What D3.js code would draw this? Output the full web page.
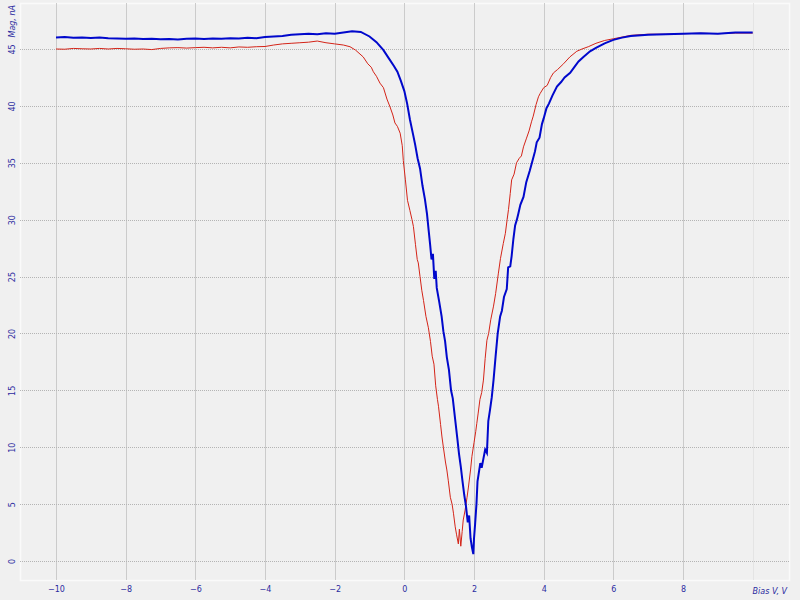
<!DOCTYPE html>
<html>
<head>
<meta charset="utf-8">
<script src="https://cdn.jsdelivr.net/npm/d3@7/dist/d3.min.js"></script>
<style>
html,body{margin:0;padding:0;background:#f0f0f0;}
svg{display:block;}
text{font-family:"DejaVu Sans",Verdana,sans-serif;}
</style>
</head>
<body>
<svg id="chart" width="800" height="600"></svg>
<script>
// ---- data ----
const xTicks = [-10, -8, -6, -4, -2, 0, 2, 4, 6, 8];
const xGrid = [-10, -8, -6, -4, -2, 0, 2, 4, 6, 8, 10];
const yTicks = [0, 5, 10, 15, 20, 25, 30, 35, 40, 45];
const xTitle = "Bias V, V";
const yTitle = "Mag, nA";

const biasBlue = [-10,-9.75,-9.5,-9.25,-9,-8.75,-8.5,-8.25,-8,-7.75,-7.5,-7.25,-7,-6.75,-6.5,-6.25,-6,-5.75,-5.5,-5.25,-5,-4.75,-4.5,-4.25,-4,-3.75,-3.5,-3.25,-3,-2.75,-2.5,-2.25,-2,-1.75,-1.5,-1.25,-1.0,-0.8,-0.6,-0.45,-0.3,-0.2,-0.1,0.0,0.08,0.16,0.25,0.31,0.38,0.45,0.52,0.59,0.65,0.7,0.74,0.78,0.82,0.86,0.9,0.93,1.0,1.07,1.12,1.17,1.22,1.28,1.34,1.39,1.46,1.52,1.57,1.62,1.67,1.72,1.77,1.82,1.86,1.9,1.94,1.98,2.0,2.03,2.07,2.1,2.13,2.18,2.22,2.27,2.32,2.37,2.41,2.46,2.51,2.56,2.62,2.68,2.75,2.8,2.86,2.94,2.98,3.04,3.08,3.13,3.18,3.23,3.27,3.33,3.42,3.5,3.6,3.68,3.75,3.8,3.88,3.95,4.0,4.08,4.15,4.25,4.38,4.5,4.6,4.76,4.9,5.0,5.14,5.33,5.5,5.75,6.0,6.25,6.5,7.0,7.5,8.0,8.5,9.0,9.5,10.0];
const magBlue = [46.0,46.05,45.98,46.02,45.97,46.0,45.95,45.93,45.9,45.92,45.88,45.9,45.86,45.88,45.84,45.9,45.92,45.88,45.93,45.9,45.95,45.92,45.98,45.95,46.05,46.1,46.15,46.25,46.3,46.35,46.3,46.38,46.35,46.45,46.55,46.5,46.1,45.6,44.9,44.2,43.5,43.0,42.2,41.3,40.2,38.8,37.5,36.6,35.4,34.5,33.0,31.8,30.5,29.0,27.8,26.5,27.0,24.8,25.5,24.0,22.8,21.5,20.2,19.3,17.9,16.8,15.0,14.3,12.4,10.8,9.4,8.3,7.0,5.8,4.8,3.4,4.0,2.0,1.2,0.6,2.0,3.2,5.0,7.0,7.6,8.6,8.2,9.0,9.8,9.5,12.3,13.3,14.4,15.9,18.0,20.0,21.5,22.0,23.2,23.9,25.8,25.9,26.8,28.3,29.5,30.0,30.5,31.3,32.0,33.3,34.3,35.2,36.0,36.8,37.2,38.4,38.9,39.8,40.2,40.9,41.7,42.1,42.5,42.9,43.5,43.9,44.3,44.8,45.1,45.5,45.8,46.0,46.15,46.25,46.3,46.35,46.38,46.35,46.45,46.45];

const biasRed = [-10,-9.75,-9.5,-9.25,-9,-8.75,-8.5,-8.25,-8,-7.75,-7.5,-7.25,-7,-6.75,-6.5,-6.25,-6,-5.75,-5.5,-5.25,-5,-4.75,-4.5,-4.25,-4,-3.75,-3.5,-3.25,-3,-2.75,-2.5,-2.25,-2.0,-1.75,-1.56,-1.4,-1.18,-1.05,-0.95,-0.89,-0.8,-0.7,-0.6,-0.5,-0.41,-0.33,-0.27,-0.2,-0.12,-0.06,-0.03,0.03,0.09,0.16,0.22,0.26,0.32,0.37,0.4,0.45,0.5,0.55,0.62,0.69,0.75,0.8,0.85,0.9,0.95,0.98,1.04,1.08,1.12,1.18,1.22,1.26,1.32,1.37,1.41,1.46,1.5,1.55,1.58,1.62,1.66,1.69,1.74,1.8,1.84,1.9,1.94,2.0,2.05,2.08,2.12,2.17,2.22,2.27,2.32,2.37,2.42,2.48,2.56,2.62,2.7,2.76,2.84,2.9,2.95,2.99,3.04,3.08,3.15,3.22,3.3,3.36,3.42,3.5,3.58,3.65,3.7,3.78,3.85,3.9,4.0,4.1,4.2,4.28,4.4,4.57,4.75,4.95,5.1,5.28,5.5,5.75,6.0,6.25,6.5,7.0,7.5,8.0,8.5,9.0,9.5,10.0];
const magRed = [45.0,44.98,45.05,45.02,45.0,45.05,45.0,45.05,45.02,44.98,45.0,44.95,45.05,45.1,45.12,45.08,45.12,45.15,45.1,45.15,45.1,45.18,45.15,45.2,45.22,45.35,45.45,45.5,45.55,45.6,45.7,45.55,45.45,45.35,45.2,44.9,44.3,43.7,43.4,43.0,42.6,42.0,41.6,40.6,39.9,39.2,38.5,38.2,37.6,36.5,35.2,33.5,31.7,30.8,30.0,29.4,27.8,26.5,26.2,25.0,23.8,22.9,21.5,20.5,19.3,18.0,17.3,15.4,14.2,13.6,12.0,10.9,10.0,8.7,8.0,7.1,5.6,5.0,4.2,3.0,2.3,1.5,2.8,1.3,2.6,3.6,4.4,5.6,6.5,8.0,9.2,10.4,11.4,12.1,13.0,14.2,14.8,15.9,17.8,19.4,20.0,21.2,22.4,23.5,25.3,26.6,27.9,28.8,30.0,30.9,32.3,33.5,34.0,35.0,35.4,35.6,36.4,37.1,37.8,38.6,39.1,40.1,40.8,41.1,41.6,41.8,42.5,42.9,43.2,43.7,44.3,44.8,45.0,45.2,45.5,45.75,45.9,46.05,46.2,46.3,46.3,46.35,46.38,46.35,46.4,46.4];

// ---- layout ----
const svg = d3.select("#chart");
const W = 800, H = 600;
const plotL = 20, plotR = 789, plotT = 3, plotB = 580;
const x = d3.scaleLinear().domain([-10, 10]).range([56, 752.7]);
const y = d3.scaleLinear().domain([0, 45]).range([561, 49]);
const labelColor = "#2b2ba0";
const fontFam = "DejaVu Sans, Verdana, sans-serif";

svg.append("rect").attr("width", W).attr("height", H).attr("fill", "#f0f0f0");

// plot frame (faint)
svg.append("rect")
  .attr("x", plotL + 0.5).attr("y", plotT + 0.5)
  .attr("width", plotR - plotL).attr("height", plotB - plotT)
  .attr("fill", "none").attr("stroke", "#fafafa").attr("stroke-width", 1.5);

// vertical grid
svg.append("g").selectAll("line").data(xGrid).join("line")
  .attr("x1", d => Math.round(x(d)) + 0.5).attr("x2", d => Math.round(x(d)) + 0.5)
  .attr("y1", plotT).attr("y2", plotB)
  .attr("stroke", d => d === 10 ? "#e4e4e4" : "#cbcbcb")
  .attr("stroke-width", 1);

// horizontal grid
svg.append("g").selectAll("line").data(yTicks).join("line")
  .attr("x1", plotL).attr("x2", plotR)
  .attr("y1", d => Math.round(y(d)) + 0.5).attr("y2", d => Math.round(y(d)) + 0.5)
  .attr("stroke", "#b4b4b4")
  .attr("stroke-width", 1)
  .attr("stroke-dasharray", "1,1");

// axes (text only, via d3 axis generators)
const xAxis = d3.axisBottom(x).tickValues(xTicks).tickSize(0).tickPadding(0);
const gx = svg.append("g").attr("transform", "translate(0,586)").call(xAxis);
gx.select(".domain").remove();
gx.selectAll("text").attr("fill", labelColor).attr("font-size", 8)
  .attr("font-family", fontFam);

const yAxis = d3.axisLeft(y).tickValues(yTicks).tickSize(0).tickPadding(0);
const gy = svg.append("g").call(yAxis);
gy.select(".domain").remove();
gy.selectAll(".tick text")
  .attr("x", 0).attr("dy", 0)
  .attr("text-anchor", "middle")
  .attr("transform", "translate(15,0) rotate(-90)")
  .attr("fill", labelColor).attr("font-size", 8)
  .attr("font-family", fontFam);

// axis titles
svg.append("text")
  .attr("transform", "translate(15,5) rotate(-90)")
  .attr("text-anchor", "end")
  .attr("font-size", 8).attr("font-style", "italic")
  .attr("font-family", fontFam)
  .attr("fill", labelColor)
  .text(yTitle);

svg.append("text")
  .attr("x", 787).attr("y", 594)
  .attr("text-anchor", "end")
  .attr("font-size", 8).attr("font-style", "italic")
  .attr("font-family", fontFam)
  .attr("fill", labelColor)
  .text(xTitle);

// lines
const line = d3.line().x(d => x(d[0])).y(d => y(d[1]));
const redData = biasRed.map((b, i) => [b, magRed[i]]);
const blueData = biasBlue.map((b, i) => [b, magBlue[i]]);

svg.append("path").datum(redData)
  .attr("d", line).attr("fill", "none")
  .attr("stroke", "#d42418").attr("stroke-width", 1);

svg.append("path").datum(blueData)
  .attr("d", line).attr("fill", "none")
  .attr("stroke", "#0008cc").attr("stroke-width", 2);
</script>
</body>
</html>
